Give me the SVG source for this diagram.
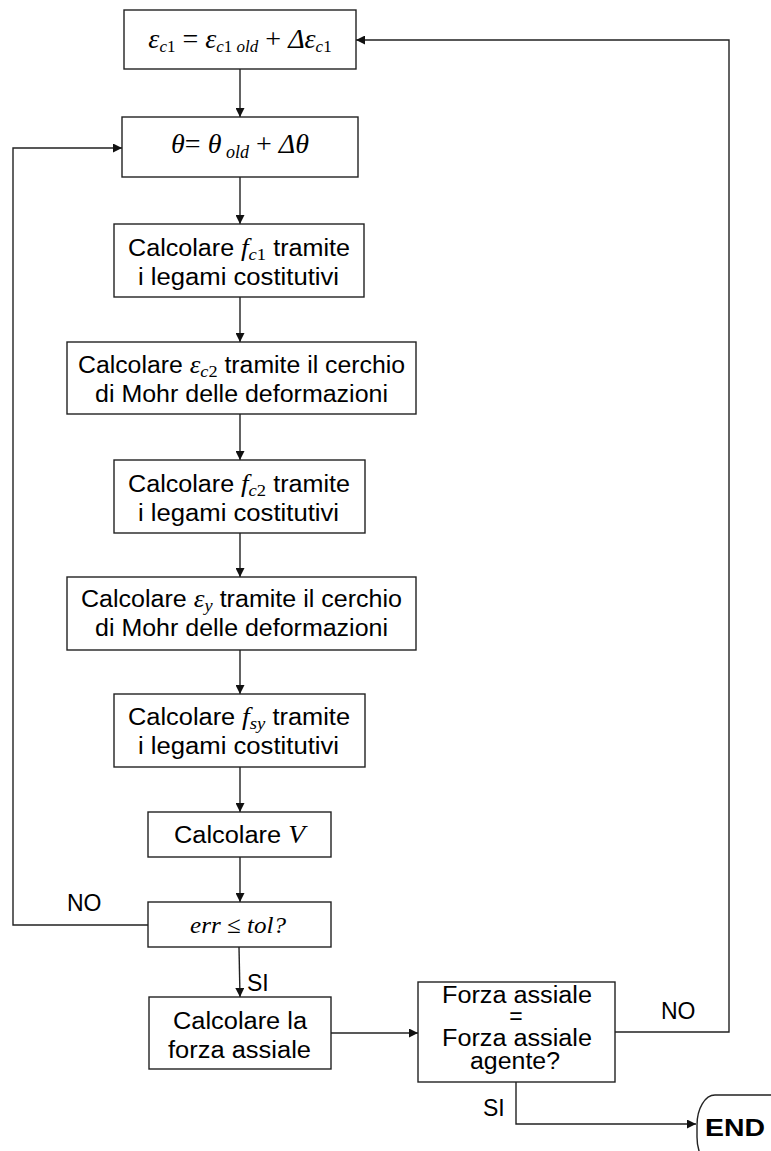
<svg xmlns="http://www.w3.org/2000/svg" width="771" height="1151" viewBox="0 0 771 1151">
  <style>
    .box { fill: #ffffff; stroke: #222222; stroke-width: 1.4; }
    .wire { fill: none; stroke: #222222; stroke-width: 1.4; }
    .t { font-family: "Liberation Sans", Arial, sans-serif; font-size: 23px; fill: #000000; }
    .m { font-family: "Liberation Serif", "Times New Roman", serif; font-style: italic; fill: #000000; }
    .up { font-style: normal; }
    .lbl { font-family: "Liberation Sans", Arial, sans-serif; font-size: 23px; fill: #000000; }
  </style>
  <defs>
    <marker id="arrow" viewBox="0 0 10 10" refX="10" refY="5" markerWidth="10" markerHeight="9" markerUnits="userSpaceOnUse" orient="auto">
      <path d="M0,0 L10,5 L0,10 Z" fill="#111111"/>
    </marker>
  </defs>

  <rect width="771" height="1151" fill="#ffffff"/>

  <!-- connectors -->
  <g id="connectors">
    <line class="wire" x1="240" y1="69" x2="240" y2="117" marker-end="url(#arrow)"/>
    <line class="wire" x1="240" y1="177" x2="240" y2="224" marker-end="url(#arrow)"/>
    <line class="wire" x1="240" y1="297" x2="240" y2="342" marker-end="url(#arrow)"/>
    <line class="wire" x1="240" y1="414" x2="240" y2="460" marker-end="url(#arrow)"/>
    <line class="wire" x1="240" y1="533" x2="240" y2="577" marker-end="url(#arrow)"/>
    <line class="wire" x1="240" y1="650" x2="240" y2="694" marker-end="url(#arrow)"/>
    <line class="wire" x1="240" y1="767" x2="240" y2="812" marker-end="url(#arrow)"/>
    <line class="wire" x1="240" y1="857" x2="240" y2="902" marker-end="url(#arrow)"/>
    <line class="wire" x1="239" y1="947" x2="240" y2="997" marker-end="url(#arrow)"/>
    <polyline class="wire" points="148,925 13,925 13,148 122,148" marker-end="url(#arrow)"/>
    <line class="wire" x1="331" y1="1033" x2="418" y2="1033" marker-end="url(#arrow)"/>
    <polyline class="wire" points="615,1032 729,1032 729,40 356,40" marker-end="url(#arrow)"/>
    <polyline class="wire" points="516,1082 516,1124 696,1124" marker-end="url(#arrow)"/>
    <text class="lbl" x="67" y="911">NO</text>
    <text class="lbl" x="247" y="991">SI</text>
    <text class="lbl" x="661" y="1019">NO</text>
    <text class="lbl" x="483" y="1116">SI</text>
  </g>

  <!-- update of the principal strain -->
  <g id="n-eps">
    <rect class="box" x="124" y="10" width="232" height="59"/>
    <text class="m" x="240" y="48" text-anchor="middle" font-size="28"><tspan>ε</tspan><tspan font-size="17" dy="4">c</tspan><tspan class="up" font-size="17">1</tspan><tspan class="up" dy="-4"> = </tspan><tspan>ε</tspan><tspan font-size="17" dy="4">c</tspan><tspan class="up" font-size="17">1 </tspan><tspan font-size="17">old</tspan><tspan class="up" dy="-4"> + </tspan><tspan>Δε</tspan><tspan font-size="17" dy="4">c</tspan><tspan class="up" font-size="17">1</tspan></text>
  </g>

  <!-- update of the angle -->
  <g id="n-theta">
    <rect class="box" x="122" y="117" width="236" height="60"/>
    <text class="m" x="240" y="153" text-anchor="middle" font-size="28"><tspan>θ</tspan><tspan class="up">= </tspan><tspan>θ</tspan><tspan font-size="18" dy="5"> old</tspan><tspan class="up" dy="-5"> + </tspan><tspan>Δθ</tspan></text>
  </g>

  <g id="n-fc1">
    <rect class="box" x="114" y="224" width="250" height="73"/>
    <text class="t" x="128" y="256" textLength="222" lengthAdjust="spacingAndGlyphs">Calcolare<tspan class="m" font-size="25"> f</tspan><tspan class="m" font-size="17" dy="4">c</tspan><tspan class="m up" font-size="17">1</tspan><tspan dy="-4"> tramite</tspan></text>
    <text class="t" x="138" y="285" textLength="201" lengthAdjust="spacingAndGlyphs">i legami costitutivi</text>
  </g>

  <g id="n-epsc2">
    <rect class="box" x="67" y="342" width="349" height="72"/>
    <text class="t" x="78" y="373" textLength="327" lengthAdjust="spacingAndGlyphs">Calcolare <tspan class="m" font-size="25">ε</tspan><tspan class="m" font-size="17" dy="4">c</tspan><tspan class="m up" font-size="17">2</tspan><tspan dy="-4"> tramite il cerchio</tspan></text>
    <text class="t" x="95" y="402" textLength="293" lengthAdjust="spacingAndGlyphs">di Mohr delle deformazioni</text>
  </g>

  <g id="n-fc2">
    <rect class="box" x="114" y="460" width="251" height="73"/>
    <text class="t" x="128" y="492" textLength="222" lengthAdjust="spacingAndGlyphs">Calcolare<tspan class="m" font-size="25"> f</tspan><tspan class="m" font-size="17" dy="4">c</tspan><tspan class="m up" font-size="17">2</tspan><tspan dy="-4"> tramite</tspan></text>
    <text class="t" x="138" y="521" textLength="201" lengthAdjust="spacingAndGlyphs">i legami costitutivi</text>
  </g>

  <g id="n-epsy">
    <rect class="box" x="67" y="577" width="349" height="73"/>
    <text class="t" x="81" y="607" textLength="321" lengthAdjust="spacingAndGlyphs">Calcolare <tspan class="m" font-size="25">ε</tspan><tspan class="m" font-size="17" dy="4">y</tspan><tspan dy="-4"> tramite il cerchio</tspan></text>
    <text class="t" x="95" y="636" textLength="293" lengthAdjust="spacingAndGlyphs">di Mohr delle deformazioni</text>
  </g>

  <g id="n-fsy">
    <rect class="box" x="114" y="694" width="251" height="73"/>
    <text class="t" x="128" y="725" textLength="222" lengthAdjust="spacingAndGlyphs">Calcolare<tspan class="m" font-size="25"> f</tspan><tspan class="m" font-size="17" dy="4">sy</tspan><tspan dy="-4"> tramite</tspan></text>
    <text class="t" x="138" y="754" textLength="201" lengthAdjust="spacingAndGlyphs">i legami costitutivi</text>
  </g>

  <g id="n-v">
    <rect class="box" x="148" y="812" width="183" height="45"/>
    <text class="t" x="174" y="843" textLength="131" lengthAdjust="spacingAndGlyphs">Calcolare <tspan class="m" font-size="25">V</tspan></text>
  </g>

  <g id="n-err">
    <rect class="box" x="148" y="902" width="183" height="45"/>
    <text class="m" x="190" y="933" font-size="24" textLength="96" lengthAdjust="spacingAndGlyphs">err <tspan class="up">≤</tspan> tol?</text>
  </g>

  <g id="n-force">
    <rect class="box" x="149" y="997" width="182" height="72"/>
    <text class="t" x="173" y="1029" textLength="134" lengthAdjust="spacingAndGlyphs">Calcolare la</text>
    <text class="t" x="168" y="1058" textLength="143" lengthAdjust="spacingAndGlyphs">forza assiale</text>
  </g>

  <g id="n-check">
    <rect class="box" x="418" y="982" width="197" height="100"/>
    <text class="t" x="442" y="1003" font-size="19" textLength="150" lengthAdjust="spacingAndGlyphs">Forza assiale</text>
    <text class="t" x="516" y="1024" font-size="19" text-anchor="middle">=</text>
    <text class="t" x="442" y="1046" font-size="19" textLength="150" lengthAdjust="spacingAndGlyphs">Forza assiale</text>
    <text class="t" x="470" y="1069" font-size="19" textLength="90" lengthAdjust="spacingAndGlyphs">agente?</text>
  </g>

  <g id="n-end">
    <rect class="box" x="697" y="1095" width="120" height="72" rx="18" ry="30"/>
    <text class="t" x="705" y="1136" font-size="24" font-weight="bold" textLength="60" lengthAdjust="spacingAndGlyphs">END</text>
  </g>
</svg>
